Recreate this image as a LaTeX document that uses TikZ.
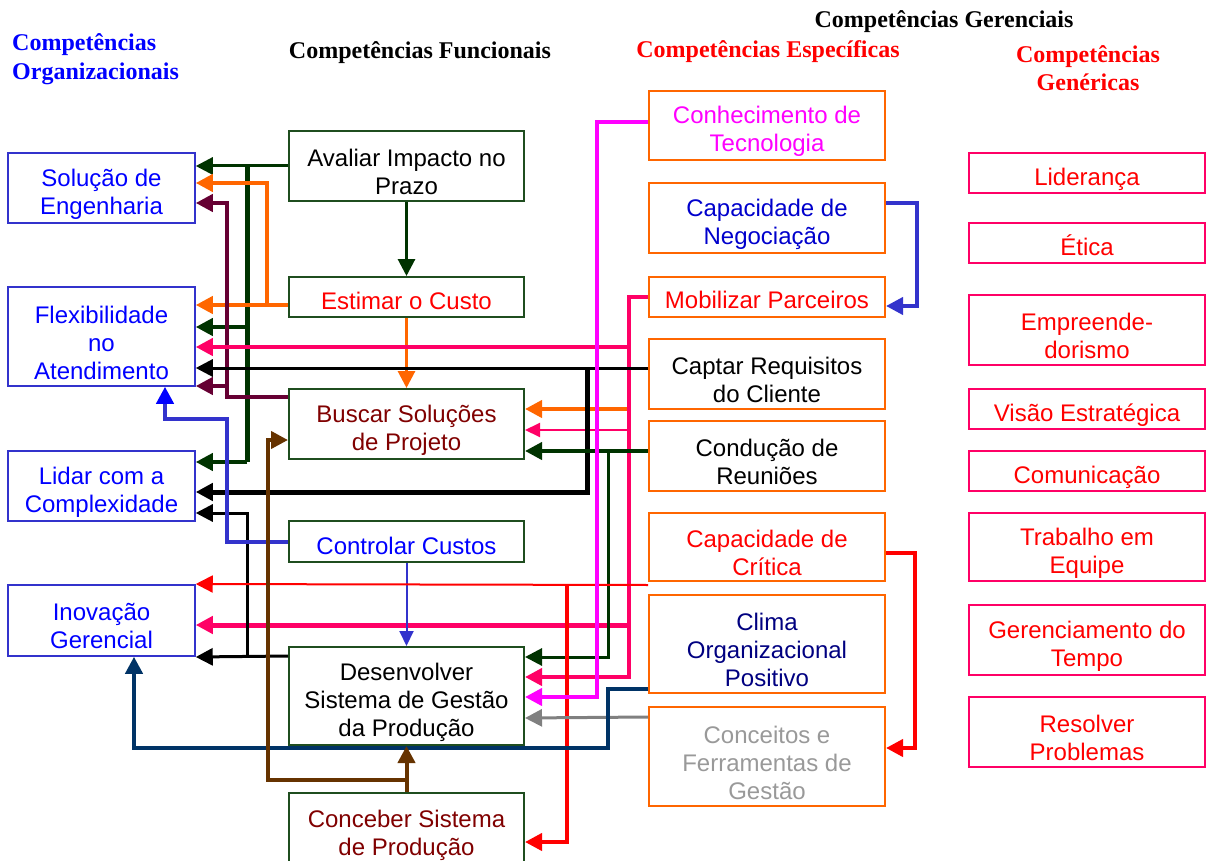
\documentclass[tikz,border=0pt]{standalone}
\usepackage{fontspec}
\setmainfont{Liberation Sans}
\newfontfamily\hdrfont{Liberation Serif}
\usetikzlibrary{arrows.meta}
\definecolor{orgblue}{HTML}{3333CC}
\definecolor{txtblue}{HTML}{0000FF}
\definecolor{fgreen}{HTML}{1F4D1F}
\definecolor{dgr}{HTML}{003300}
\definecolor{orng}{HTML}{FF6600}
\definecolor{crim}{HTML}{FF0066}
\definecolor{mar}{HTML}{660033}
\definecolor{pnk}{HTML}{FF0066}
\definecolor{mgt}{HTML}{FF00FF}
\definecolor{nvy}{HTML}{003366}
\definecolor{brwn}{HTML}{663300}
\definecolor{gry}{HTML}{808080}
\definecolor{ltgry}{HTML}{999999}
\definecolor{dred}{HTML}{800000}
\definecolor{navytxt}{HTML}{000080}
\definecolor{negblue}{HTML}{0000CC}
\begin{document}
\begin{tikzpicture}[x=1pt,y=-1pt,
  box/.style={draw, line width=2pt, inner sep=0pt},
  tx/.style={align=center, inner sep=0pt, yshift=-6pt, font=\fontsize{24}{28}\selectfont},
  orgbox/.style={box, draw=orgblue, line width=1.5pt, minimum width=187pt},
  funbox/.style={box, draw=fgreen, minimum width=235pt},
  espbox/.style={box, draw=orng, minimum width=236pt},
  genbox/.style={box, draw=crim, minimum width=236pt},
  hdr/.style={font=\hdrfont\bfseries\fontsize{24}{29}\selectfont, inner sep=0pt},
  arr/.style={-{Triangle[length=17pt,width=17pt]}},
  arrs/.style={-{Triangle[length=15pt,width=14pt]}},
  lwa/.style={line width=2pt},
  lwb/.style={line width=3pt},
  lwc/.style={line width=4pt},
  lwd/.style={line width=5pt}
]
\useasboundingbox (0,0) rectangle (1207,861);
\clip (0,0) rectangle (1207,861);

% headers
\node[hdr, text=txtblue, anchor=base west] (h1a) at (12,51) {Competências};
\node[hdr, text=txtblue, anchor=base west] (h1b) at (12,80) {Organizacionais};
\node[hdr, anchor=base] (h2) at (420,59) {Competências Funcionais};
\node[hdr, anchor=base] (h3) at (944,28) {Competências Gerenciais};
\node[hdr, text=red, anchor=base] (h4) at (768,58) {Competências Específicas};
\node[hdr, text=red, anchor=base] (h5a) at (1088,63) {Competências};
\node[hdr, text=red, anchor=base] (h5b) at (1088,91) {Genéricas};

% left column
\node[orgbox, minimum height=70pt, label={[tx,text=txtblue]center:{Solução de\\Engenharia}}] (sol) at (101.5,188) {};
\node[orgbox, minimum height=99pt, label={[tx,text=txtblue]center:{Flexibilidade\\no\\Atendimento}}] (flex) at (101.5,336.5) {};
\node[orgbox, minimum height=70pt, label={[tx,text=txtblue]center:{Lidar com a\\Complexidade}}] (lidar) at (101.5,486) {};
\node[orgbox, minimum height=71pt, label={[tx,text=txtblue]center:{Inovação\\Gerencial}}] (inov) at (101.5,620.5) {};

% middle column
\node[funbox, minimum height=70pt, label={[tx]center:{Avaliar Impacto no\\Prazo}}] (aval) at (406.5,166) {};
\node[funbox, minimum height=40pt, label={[tx,text=red,yshift=2pt]center:{Estimar o Custo}}] (estim) at (406.5,297) {};
\node[funbox, minimum height=70pt, label={[tx,text=dred]center:{Buscar Soluções\\de Projeto}}] (busc) at (406.5,424) {};
\node[funbox, minimum height=41pt, label={[tx,text=txtblue,yshift=2pt]center:{Controlar Custos}}] (contr) at (406.5,541.5) {};
\node[funbox, minimum height=98pt, label={[tx]center:{Desenvolver\\Sistema de Gestão\\da Produção}}] (desenv) at (406.5,696) {};
\node[funbox, minimum height=78pt, label={[tx,text=dred,yshift=3pt]center:{Conceber Sistema\\de Produção}}] (conceb) at (406.5,832) {};

% right column
\node[espbox, minimum height=69pt, label={[tx,text=mgt]center:{Conhecimento de\\Tecnologia}}] (conh) at (767,125.5) {};
\node[espbox, minimum height=70pt, label={[tx,text=negblue]center:{Capacidade de\\Negociação}}] (negoc) at (767,218) {};
\node[espbox, minimum height=40pt, label={[tx,text=red,yshift=3pt]center:{Mobilizar Parceiros}}] (mobil) at (767,297) {};
\node[espbox, minimum height=70pt, label={[tx]center:{Captar Requisitos\\do Cliente}}] (captar) at (767,374) {};
\node[espbox, minimum height=70pt, label={[tx]center:{Condução de\\Reuniões}}] (cond) at (767,456) {};
\node[espbox, minimum height=68pt, label={[tx,text=red]center:{Capacidade de\\Crítica}}] (crit) at (767,547) {};
\node[espbox, minimum height=98pt, label={[tx,text=navytxt]center:{Clima\\Organizacional\\Positivo}}] (clima) at (767,644) {};
\node[espbox, minimum height=99pt, label={[tx,text=ltgry]center:{Conceitos e\\Ferramentas de\\Gestão}}] (conc) at (767,756.5) {};

% far right column
\node[genbox, minimum height=40pt, label={[tx,text=red]center:{Liderança}}] (lid) at (1087,173) {};
\node[genbox, minimum height=40pt, label={[tx,text=red,yshift=4pt]center:{Ética}}] (etica) at (1087,243) {};
\node[genbox, minimum height=70pt, label={[tx,text=red]center:{Empreende-\\dorismo}}] (empre) at (1087,330) {};
\node[genbox, minimum height=40pt, label={[tx,text=red]center:{Visão Estratégica}}] (visao) at (1087,409) {};
\node[genbox, minimum height=40pt, label={[tx,text=red]center:{Comunicação}}] (comun) at (1087,471) {};
\node[genbox, minimum height=68pt, label={[tx,text=red]center:{Trabalho em\\Equipe}}] (trab) at (1087,547) {};
\node[genbox, minimum height=70pt, label={[tx,text=red]center:{Gerenciamento do\\Tempo}}] (ger) at (1087,640) {};
\node[genbox, minimum height=70pt, label={[tx,text=red]center:{Resolver\\Problemas}}] (resol) at (1087,732) {};

\coordinate (ofree) at (631,409);

% dark green from Avaliar
\draw[dgr, lwb, arr] (aval.west) -- (aval.west -| sol.east);
\draw[dgr, lwd] (247,166) -- (247,462);
\draw[dgr, lwc, arr] (247,327) -- (flex.east |- 247,327);
\draw[dgr, lwc, arr] (247,462) -- (lidar.east |- 247,462);
\draw[dgr, lwb, arr] (aval.south) -- (estim.north);

% orange from Estimar
\draw[orng, lwc, arr] ([yshift=-8pt]estim.west) -- (flex.east |- 267,305);
\draw[orng, lwc, arr] (267,305) -- (267,183) -- (sol.east |- 267,183);
\draw[orng, lwb, arr] (estim.south) -- (busc.north);
\draw[orng, lwc, arr] (ofree) -- (busc.east |- ofree);

% maroon from Buscar
\draw[mar, lwc, arr] ([yshift=-9pt]busc.north west) -| (227,203) -- (sol.east |- 227,203);
\draw[mar, lwc, arr] (227,386) -- (flex.east |- 227,386);

% pink from Mobilizar
\draw[pnk, lwc, arr] (mobil.west) -| (629,677) -- (desenv.east |- 629,677);
\draw[pnk, lwc, arr] (629,347) -- (flex.east |- 629,347);
\draw[pnk, lwa, arrs] (629,430) -- (busc.east |- 629,430);
\draw[pnk, lwd, arr] (629,625) -- (inov.east |- 629,625);

% black from Captar
\draw[black, lwb, arr] ([yshift=6pt]captar.west) -- (flex.east |- 587,368);
\draw[black, lwd, arr] (587,368) -- (587,492) -- (lidar.east |- 587,492);

% dark green from Conducao
\draw[dgr, lwc, arr] ([yshift=5pt]cond.west) -- (busc.east |- 608,451);
\draw[dgr, lwb, arr] (608,451) -- (608,657) -- (desenv.east |- 608,657);

% black from Desenvolver
\draw[black, lwb, arr] ([yshift=-10pt]desenv.north west) -- (inov.east |- 247,657);
\draw[black, lwb, arr] (247,657) -- (247,513) -- (lidar.east |- 247,513);

% blue from Controlar
\draw[orgblue, lwc, -{Triangle[length=17pt,width=17pt,color=blue]}] (contr.west) -| (227,419) -- (165,419) -- (flex.south -| 165,419);
\draw[orgblue, lwa, arrs] (contr.south) -- (desenv.north);

% red from Capacidade de Critica
\draw[red, lwa, arr] ([yshift=-3pt]crit.south west) -- (inov.east |- 567,584);
\draw[red, lwc, arr] (567,584) -- (567,842) -- (conceb.east |- 567,842);
\draw[red, lwc, arr] ([yshift=-6pt]crit.east) -- (915,553) -- (915,748) -- (conc.east |- 915,748);

% blue from Negociacao
\draw[orgblue, lwc, arr] ([yshift=15pt]negoc.east) -- (917,203) -- (917,306) -- (mobil.east |- 917,306);

% magenta from Conhecimento
\draw[mgt, lwc, arr] ([yshift=3.5pt]conh.west) -| (597,697) -- (desenv.east |- 597,697);

% gray from Conceitos
\draw[gry, lwb, arr] ([yshift=-11pt]conc.north west) -- (desenv.east |- 640,718);

% navy from Clima
\draw[nvy, lwc, arr] ([yshift=5pt]clima.south west) -| (608,748) -| (inov.south -| 134,700);

% brown from Conceber
\draw[brwn, lwc, arr] (conceb.north) -- (desenv.south);
\draw[brwn, lwc, arr] (406.5,780) -| (268,440) -- (busc.west |- 268,440);
\end{tikzpicture}
\end{document}
